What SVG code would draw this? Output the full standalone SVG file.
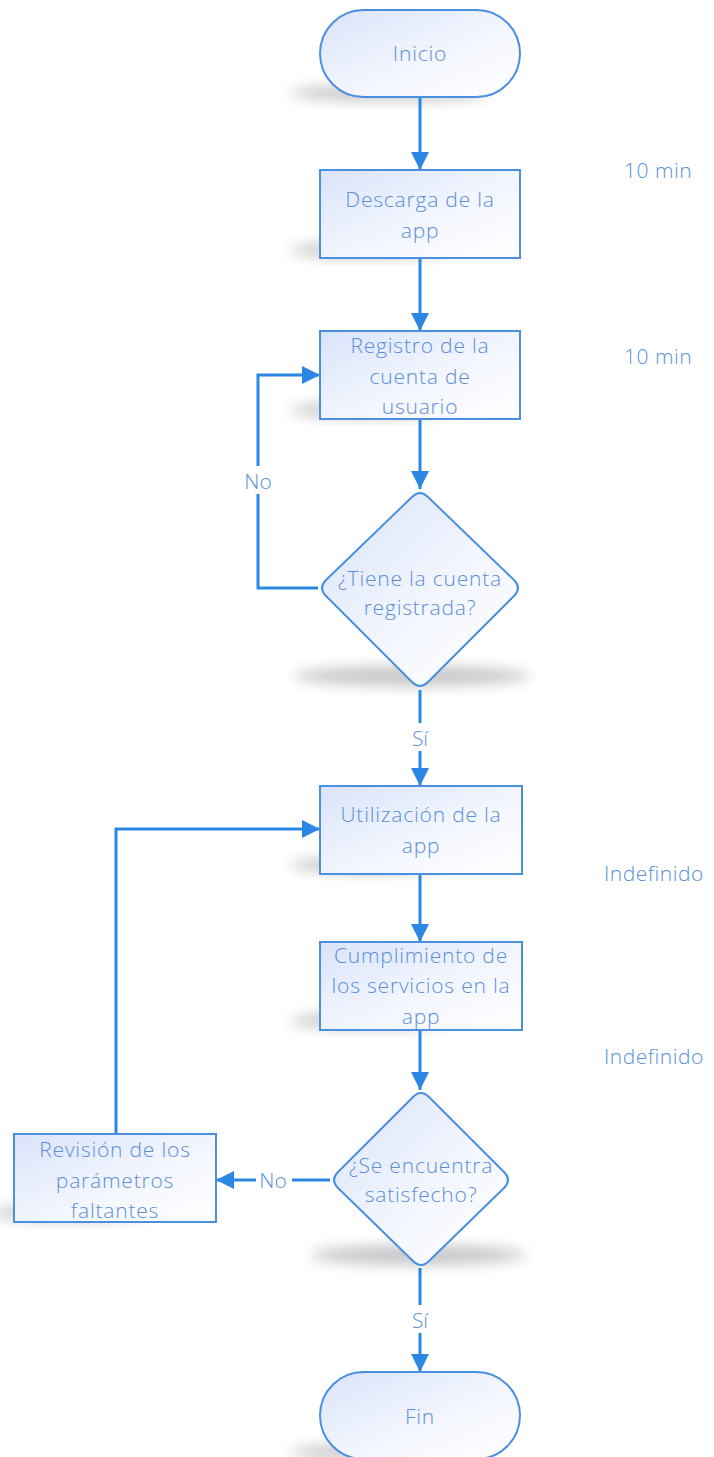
<svg xmlns="http://www.w3.org/2000/svg" width="714" height="1457" viewBox="0 0 714 1457">
<defs>
<linearGradient id="fillg" x1="0" y1="0" x2="1" y2="1">
<stop offset="0" stop-color="#d9e3fa"/>
<stop offset="0.55" stop-color="#f3f6fe"/>
<stop offset="1" stop-color="#ffffff"/>
</linearGradient>
<filter id="blur" x="-50%" y="-50%" width="200%" height="200%">
<feGaussianBlur stdDeviation="7"/>
</filter>
<marker id="arrow" viewBox="0 0 18 18" refX="18" refY="9" markerWidth="18" markerHeight="18" markerUnits="userSpaceOnUse" orient="auto">
<path d="M0,0 L18,9 L0,18 z" fill="#2b87e3"/>
</marker>
</defs>
<style>
.shape{fill:url(#fillg);stroke:#4a90df;stroke-width:2}
.shadow{fill:#000;opacity:0.22;filter:url(#blur)}
.t{font-family:"Open Sans","Liberation Sans",sans-serif;font-size:21px;letter-spacing:0.8px;fill:#5a8fda;text-anchor:middle;font-weight:300}
.side{font-family:"Open Sans","Liberation Sans",sans-serif;font-size:21px;letter-spacing:0.5px;fill:#5a8fda;font-weight:300}
.c{fill:none;stroke:#2b87e3;stroke-width:3}
.lbl{font-family:"Open Sans","Liberation Sans",sans-serif;font-size:21px;fill:#5a8fda;text-anchor:middle;font-weight:300}
.bg{fill:#ffffff}
</style>
<rect width="714" height="1457" fill="#ffffff"/>

<g id="shadows">
<ellipse class="shadow" cx="390" cy="93" rx="100" ry="8"/>
<ellipse class="shadow" cx="370" cy="250" rx="80" ry="8"/>
<ellipse class="shadow" cx="370" cy="410" rx="80" ry="8"/>
<ellipse class="shadow" cx="412" cy="676" rx="118" ry="10"/>
<ellipse class="shadow" cx="370" cy="865" rx="80" ry="8"/>
<ellipse class="shadow" cx="370" cy="1021" rx="80" ry="8"/>
<ellipse class="shadow" cx="418" cy="1255" rx="108" ry="10"/>
<ellipse class="shadow" cx="70" cy="1213" rx="80" ry="8"/>
<ellipse class="shadow" cx="390" cy="1452" rx="100" ry="8"/>
</g>

<g id="connectors">
<line class="c" x1="420" y1="97" x2="420" y2="170" marker-end="url(#arrow)"/>
<line class="c" x1="420" y1="258" x2="420" y2="331" marker-end="url(#arrow)"/>
<line class="c" x1="420" y1="419" x2="420" y2="489" marker-end="url(#arrow)"/>
<polyline class="c" points="318,588 258,588 258,375 320,375" marker-end="url(#arrow)"/>
<line class="c" x1="420" y1="690" x2="420" y2="786" marker-end="url(#arrow)"/>
<line class="c" x1="420" y1="874" x2="420" y2="942" marker-end="url(#arrow)"/>
<line class="c" x1="420" y1="1030" x2="420" y2="1090" marker-end="url(#arrow)"/>
<line class="c" x1="330" y1="1180" x2="216" y2="1180" marker-end="url(#arrow)"/>
<polyline class="c" points="116,1134 116,829 320,829" marker-end="url(#arrow)"/>
<line class="c" x1="420" y1="1268" x2="420" y2="1372" marker-end="url(#arrow)"/>
<rect class="bg" x="238" y="466" width="40" height="28"/>
<text class="lbl" x="258" y="489">No</text>
<rect class="bg" x="408" y="723" width="24" height="28"/>
<text class="lbl" x="420" y="746">Sí</text>
<rect class="bg" x="256" y="1166" width="36" height="28"/>
<text class="lbl" x="273" y="1188">No</text>
<rect class="bg" x="408" y="1305" width="24" height="28"/>
<text class="lbl" x="420" y="1328">Sí</text>
</g>

<g id="inicio">
<rect class="shape" x="320" y="10" width="200" height="87" rx="43.5" ry="43.5"/>
<text class="t" x="420" y="61">Inicio</text>
</g>

<g id="descarga">
<rect class="shape" x="320" y="170" width="200" height="88"/>
<text class="t" x="420" y="207">Descarga de la</text>
<text class="t" x="420" y="238">app</text>
</g>

<g id="registro">
<rect class="shape" x="320" y="331" width="200" height="88"/>
<text class="t" x="420" y="353">Registro de la</text>
<text class="t" x="420" y="384">cuenta de</text>
<text class="t" x="420" y="414">usuario</text>
</g>

<g id="decision1">
<path class="shape" d="M412,497 Q420,489 428,497 L514,580 Q522,588 514,596 L428,682 Q420,690 412,682 L326,596 Q318,588 326,580 Z"/>
<text class="t" x="420" y="586">¿Tiene la cuenta</text>
<text class="t" x="420" y="615">registrada?</text>
</g>

<g id="utilizacion">
<rect class="shape" x="320" y="786" width="202" height="88"/>
<text class="t" x="421" y="822">Utilización de la</text>
<text class="t" x="421" y="853">app</text>
</g>

<g id="cumplimiento">
<rect class="shape" x="320" y="942" width="202" height="88"/>
<text class="t" x="421" y="963">Cumplimiento de</text>
<text class="t" x="421" y="993">los servicios en la</text>
<text class="t" x="421" y="1024">app</text>
</g>

<g id="decision2">
<path class="shape" d="M413,1097 Q421,1089 429,1097 L504,1172 Q512,1180 504,1188 L429,1261 Q421,1269 413,1261 L338,1188 Q330,1180 338,1172 Z"/>
<text class="t" x="421" y="1173">¿Se encuentra</text>
<text class="t" x="421" y="1202">satisfecho?</text>
</g>

<g id="revision">
<rect class="shape" x="14" y="1134" width="202" height="88"/>
<text class="t" x="115" y="1157">Revisión de los</text>
<text class="t" x="115" y="1188">parámetros</text>
<text class="t" x="115" y="1218">faltantes</text>
</g>

<g id="fin">
<rect class="shape" x="320" y="1372" width="200" height="87" rx="43.5" ry="43.5"/>
<text class="t" x="420" y="1424">Fin</text>
</g>

<g id="tiempos">
<text class="side" x="624" y="178">10 min</text>
<text class="side" x="624" y="364">10 min</text>
<text class="side" x="604" y="881">Indefinido</text>
<text class="side" x="604" y="1064">Indefinido</text>
</g>
</svg>
